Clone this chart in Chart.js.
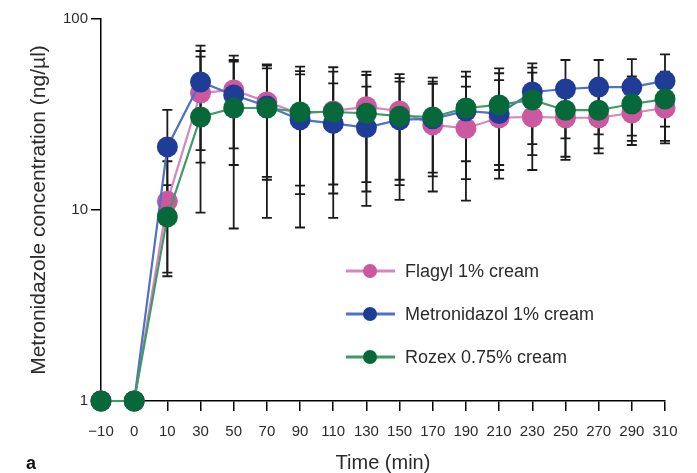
<!DOCTYPE html>
<html>
<head>
<meta charset="utf-8">
<title>Metronidazole concentration over time</title>
<script src="https://cdn.jsdelivr.net/npm/chart.js@4/dist/chart.umd.min.js"></script>
<style>
  html, body { margin: 0; padding: 0; background: #fff; }
  #wrap { width: 697px; height: 473px; }
</style>
</head>
<body>
<div id="wrap"><canvas id="chart" width="697" height="473"></canvas></div>
<script>
// Sampling times (min)
const times = ['\u221210', '0', '10', '30', '50', '70', '90', '110', '130', '150', '170', '190', '210', '230', '250', '270', '290', '310'];

// Mean concentrations (ng/µl)
const flagyl = [1, 1, 11.1, 41, 42.5, 36.8, 32, 33, 34.7, 33, 27.9, 26.8, 30.4, 30.7, 30.4, 30.4, 32.2, 34.2];
const metronidazol = [1, 1, 21.4, 46.8, 40, 35, 29.7, 28.4, 27, 29.7, 30, 33, 32, 41.5, 43, 44, 44, 47.4];
const rozex = [1, 1, 9.2, 30.7, 34.2, 34.2, 32.6, 32.6, 32.1, 31, 30.7, 34.2, 35.5, 37.7, 33.3, 33.3, 35.9, 38.1];

// Error bar ends (lower / upper)
const flagylLow = [null, null, 4.5, 17.7, 21, 14.9, 13.4, 13.6, 14.0, 14.4, 15.7, 14.5, 17.2, 16.2, 18.3, 21, 23, 22.3];
const flagylHigh = [null, null, 18, 63.5, 64.3, 57.9, 53.4, 55.9, 53.0, 51.5, 45.7, 44.2, 47.9, 52.4, 42, 42, 45, 46];
const metronidazolLow = [null, null, 9.4, 20.6, 17.2, 14.4, 12.1, 12.2, 12.5, 13.5, 15, 18, 16.2, 22.1, 23.7, 24.9, 24.5, 27.3];
const metronidazolHigh = [null, null, 33.4, 72.5, 61, 55.2, 51.3, 46, 44.2, 47, 47, 49.9, 52, 58.6, 61, 61, 61.7, 65.3];
const rozexLow = [null, null, 4.7, 9.7, 8.0, 9.1, 8.1, 9.1, 10.5, 11.3, 12.5, 11.2, 14.6, 19.4, 19, 19.8, 21.9, 23];
const rozexHigh = [null, null, 13.5, 68, 59.8, 57, 56.3, 53, 50.9, 49, 49.3, 53, 55.2, 55.6, 47, 48, 50, 53];

// Y-axis tick values
const yTicks = [1, 10, 100];

const FONT = "'Liberation Sans', Arial, sans-serif";
const TEXT = '#2b2b2b';

const series = [
  { label: 'Flagyl 1% cream', data: flagyl, low: flagylLow, high: flagylHigh,
    marker: '#cc589f', line: '#d885bc', order: 3 },
  { label: 'Metronidazol 1% cream', data: metronidazol, low: metronidazolLow, high: metronidazolHigh,
    marker: '#1f3d96', line: '#5072c2', order: 2 },
  { label: 'Rozex 0.75% cream', data: rozex, low: rozexLow, high: rozexHigh,
    marker: '#07693a', line: '#3f9a66', order: 1 }
];

// Black error bars with caps, drawn under the markers
const errorBars = {
  id: 'errorBars',
  beforeDatasetsDraw(chart) {
    const ctx = chart.ctx;
    const y = chart.scales.y;
    ctx.save();
    ctx.strokeStyle = '#1b1b1b';
    ctx.lineWidth = 1.8;
    series.forEach((s, i) => {
      const meta = chart.getDatasetMeta(i);
      meta.data.forEach((pt, j) => {
        const lo = s.low[j], hi = s.high[j];
        if (lo == null || hi == null) return;
        const x = pt.x;
        const yl = y.getPixelForValue(lo);
        const yh = y.getPixelForValue(hi);
        ctx.beginPath();
        ctx.moveTo(x, yl); ctx.lineTo(x, yh);
        ctx.moveTo(x - 5, yl); ctx.lineTo(x + 5, yl);
        ctx.moveTo(x - 5, yh); ctx.lineTo(x + 5, yh);
        ctx.stroke();
      });
    });
    ctx.restore();
  }
};

// Legend inside the plot area and the panel letter
const legendAndPanel = {
  id: 'legendAndPanel',
  afterDraw(chart) {
    const ctx = chart.ctx;
    ctx.save();
    const rows = [271, 314, 357];
    series.forEach((s, i) => {
      const yy = rows[i];
      ctx.strokeStyle = s.line;
      ctx.lineWidth = 3;
      ctx.beginPath();
      ctx.moveTo(346, yy); ctx.lineTo(395, yy);
      ctx.stroke();
      ctx.fillStyle = s.marker;
      ctx.beginPath();
      ctx.arc(370, yy, 7, 0, Math.PI * 2);
      ctx.fill();
      ctx.fillStyle = TEXT;
      ctx.font = '18px ' + FONT;
      ctx.textBaseline = 'middle';
      ctx.textAlign = 'left';
      ctx.fillText(s.label, 405, yy + 1);
    });
    ctx.fillStyle = '#111';
    ctx.font = 'bold 18px ' + FONT;
    ctx.textBaseline = 'alphabetic';
    ctx.fillText('a', 26, 469);
    ctx.restore();
  }
};

new Chart(document.getElementById('chart'), {
  type: 'line',
  data: {
    labels: times,
    datasets: series.map(s => ({
      label: s.label,
      data: s.data,
      order: s.order,
      borderColor: s.line,
      borderWidth: 2.2,
      backgroundColor: s.marker,
      pointBackgroundColor: s.marker,
      pointBorderColor: s.marker,
      pointBorderWidth: 0,
      pointRadius: 10.5,
      pointHoverRadius: 10.5,
      tension: 0,
      clip: false
    }))
  },
  options: {
    responsive: false,
    animation: false,
    events: [],
    layout: { padding: { top: 19, right: 32, left: 0, bottom: 0 } },
    plugins: {
      legend: { display: false },
      tooltip: { enabled: false }
    },
    scales: {
      x: {
        type: 'category',
        offset: false,
        grid: { display: true, drawOnChartArea: false, drawTicks: true, tickLength: 10, color: '#000', lineWidth: 1.5 },
        border: { display: true, color: '#000', width: 1.5 },
        ticks: { color: TEXT, font: { family: FONT, size: 15 }, padding: 12, maxRotation: 0, autoSkip: false },
        title: { display: true, text: 'Time (min)', color: TEXT, font: { family: FONT, size: 20, lineHeight: 1 }, padding: { top: 0, bottom: 0 } },
        afterFit(scale) { scale.height = 72; }
      },
      y: {
        type: 'logarithmic',
        min: 1,
        max: 100,
        grid: { display: true, drawOnChartArea: false, drawTicks: true, tickLength: 10, color: '#000', lineWidth: 1.5 },
        border: { display: true, color: '#000', width: 1.5 },
        ticks: { color: TEXT, font: { family: FONT, size: 15 }, padding: 3, callback: v => String(v) },
        afterBuildTicks(scale) { scale.ticks = yTicks.map(v => ({ value: v })); },
        title: { display: true, text: 'Metronidazole concentration (ng/\u00b5l)', color: TEXT, font: { family: FONT, size: 21, lineHeight: 1 }, padding: { top: 29, bottom: 0 } },
        afterFit(scale) { scale.width = 101; }
      }
    }
  },
  plugins: [errorBars, legendAndPanel]
});
</script>
</body>
</html>
